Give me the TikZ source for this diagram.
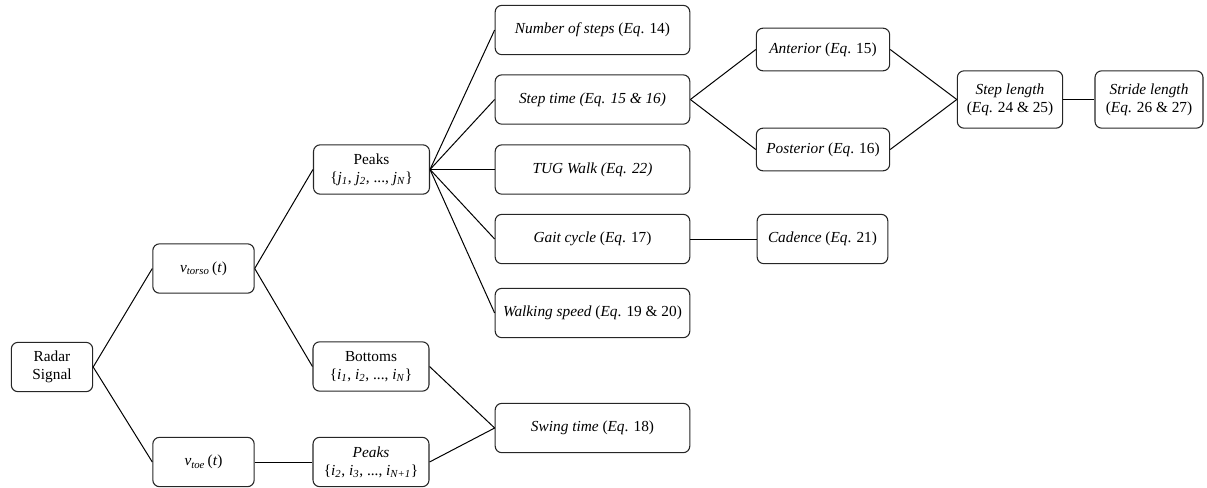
\documentclass[tikz,border=0pt]{standalone}
\usepackage{fontspec}
\setmainfont{Liberation Serif}

\newcommand{\sub}[2]{\textit{#1}\textsubscript{\textit{#2}}}

\begin{document}
\begin{tikzpicture}[x=0.75pt, y=-0.75pt,
    box style/.style={draw=black!85, line width=0.8pt, rounded corners=5pt,
        align=center, inner sep=1pt, font=\fontsize{11.5}{13.5}\selectfont},
    link style/.style={draw=black, line width=0.75pt},]
    \useasboundingbox (0,0) rectangle (1207,487);

    % first columns
    \node[box style, minimum width=61pt, minimum height=37pt] (radar) at (52,367) {Radar\\Signal};
    \node[box style, minimum width=76pt, minimum height=37pt] (torso) at (203.5,268.5) {\sub{v}{torso}\,(\textit{t})};
    \node[box style, minimum width=76pt, minimum height=37pt] (toe) at (203.5,462) {\sub{v}{toe}\,(\textit{t})};

    \node[box style, minimum width=87pt, minimum height=37pt] (peaksj) at (371.5,169.5)
        {Peaks\\\{\sub{j}{1}, \sub{j}{2}, ..., \sub{j}{N}\}};
    \node[box style, minimum width=87pt, minimum height=37pt] (bottoms) at (371,366.5)
        {Bottoms\\\{\sub{i}{1}, \sub{i}{2}, ..., \sub{i}{N}\}};
    \node[box style, minimum width=87pt, minimum height=37pt] (peaksi) at (371,462)
        {\textit{Peaks}\\\{\sub{i}{2}, \sub{i}{3}, ..., \sub{i}{N+1}\}};

    % parameters
    \node[box style, minimum width=146pt, minimum height=37pt] (nsteps) at (592.5,30) {\textit{Number of steps} (\textit{Eq}. 14)};
    \node[box style, minimum width=146pt, minimum height=37pt] (steptime) at (592.5,99.5) {\textit{Step time (Eq. 15 \& 16)}};
    \node[box style, minimum width=146pt, minimum height=37pt] (tug) at (592.5,169.5) {\textit{TUG Walk (Eq. 22)}};
    \node[box style, minimum width=146pt, minimum height=37pt] (gait) at (592.5,239) {\textit{Gait cycle} (\textit{Eq}. 17)};
    \node[box style, minimum width=146pt, minimum height=37pt] (walk) at (592.5,313) {\textit{Walking speed} (\textit{Eq}. 19 \& 20)};
    \node[box style, minimum width=146pt, minimum height=37pt] (swing) at (592.5,428) {\textit{Swing time} (\textit{Eq}. 18)};

    \node[box style, minimum width=100pt, minimum height=32pt] (anterior) at (823,49.5) {\textit{Anterior} (\textit{Eq}. 15)};
    \node[box style, minimum width=100pt, minimum height=32pt] (posterior) at (823,149.5) {\textit{Posterior} (\textit{Eq}. 16)};
    \node[box style, minimum width=98pt, minimum height=37pt] (cadence) at (822.5,239) {\textit{Cadence} (\textit{Eq}. 21)};

    \node[box style, minimum width=79pt, minimum height=43pt] (steplen) at (1010,99.5) {\textit{Step length}\\(\textit{Eq}. 24 \& 25)};
    \node[box style, minimum width=81pt, minimum height=43pt] (stride) at (1149,99.5) {\textit{Stride length}\\(\textit{Eq}. 26 \& 27)};

    % links
    \draw[style=link style] (radar.east) -- (torso.west);
    \draw[style=link style] (radar.east) -- (toe.west);
    \draw[style=link style] (torso.east) -- (peaksj.west);
    \draw[style=link style] (torso.east) -- (bottoms.west);
    \draw[style=link style] (toe.east) -- (peaksi.west);
    \foreach \p in {nsteps, steptime, tug, gait, walk}
        \draw[style=link style] (peaksj.east) -- (\p.west);
    \draw[style=link style] (bottoms.east) -- (swing.west);
    \draw[style=link style] (peaksi.east) -- (swing.west);
    \draw[style=link style] (steptime.east) -- (anterior.west);
    \draw[style=link style] (steptime.east) -- (posterior.west);
    \draw[style=link style] (anterior.east) -- (steplen.west);
    \draw[style=link style] (posterior.east) -- (steplen.west);
    \draw[style=link style] (steplen.east) -- (stride.west);
    \draw[style=link style] (gait.east) -- (cadence.west);

\end{tikzpicture}
\end{document}
